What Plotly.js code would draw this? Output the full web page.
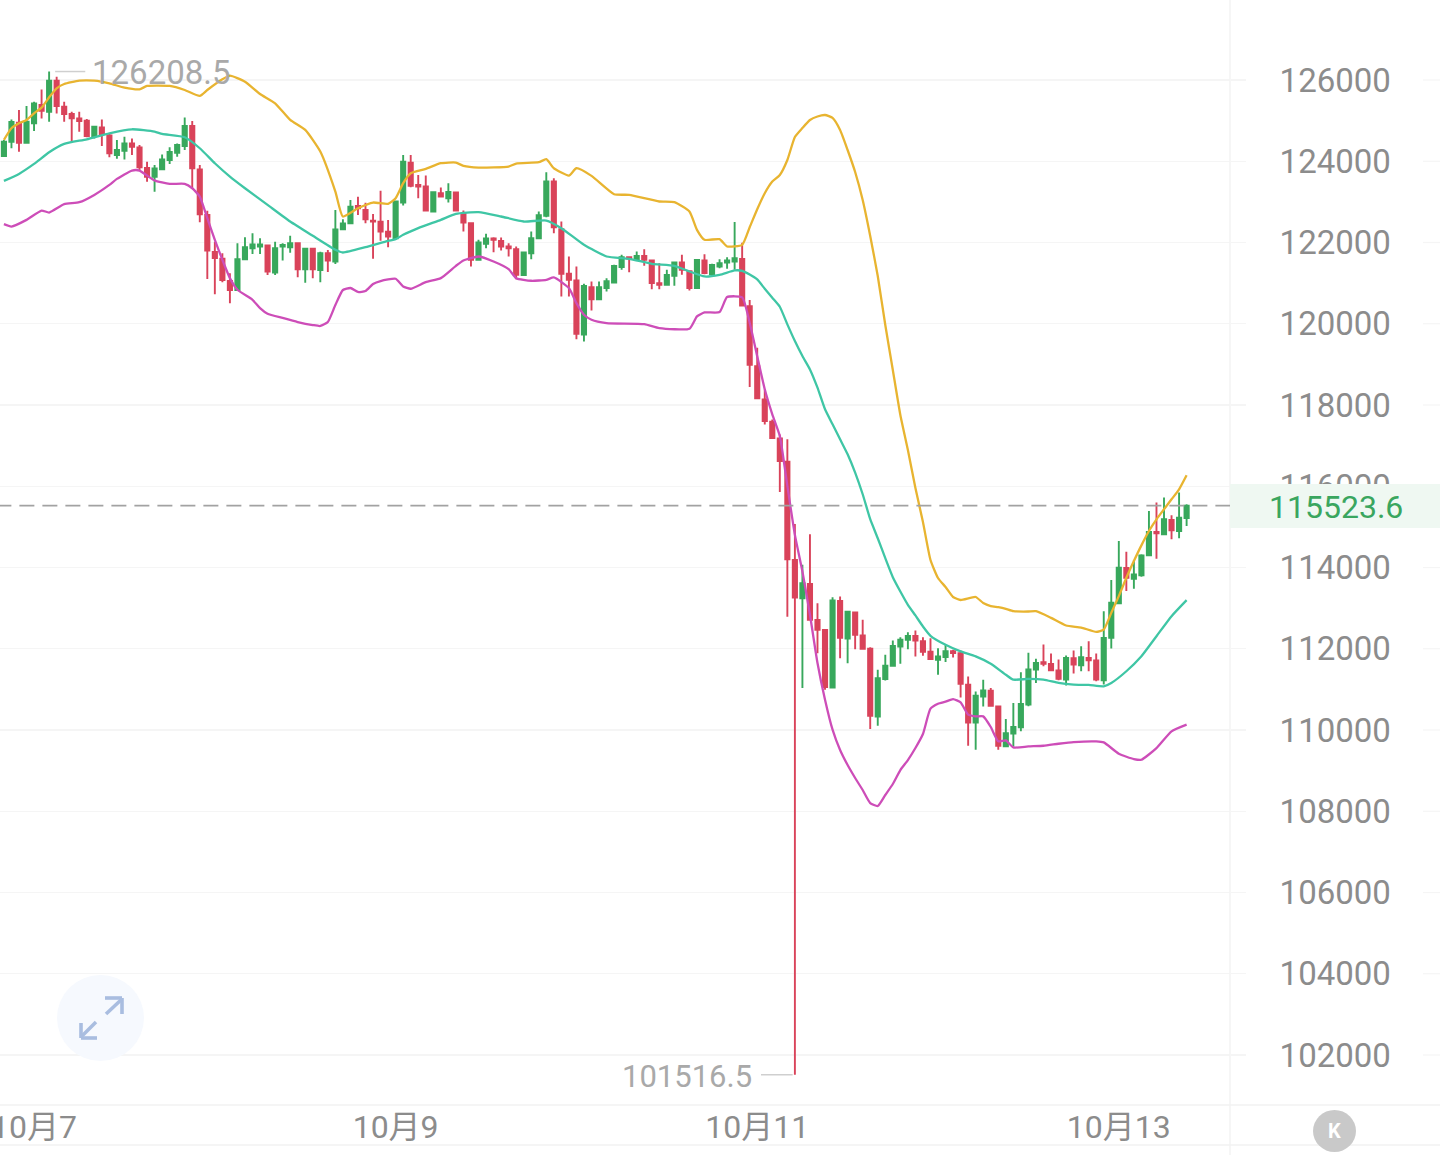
<!DOCTYPE html>
<html><head><meta charset="utf-8">
<script src="https://cdn.plot.ly/plotly-3.0.1.min.js"></script>
<style>html,body{margin:0;padding:0;background:#fff}#c{width:1440px;height:1155px}</style>
</head><body><div id="c"></div>
<script>
const opens=[124128,124481,124948,124456,124932,125383,125219,125982,125342,125162,125055,124998,124620,124834,124637,124153,124260,124440,124342,123833,123620,123800,124030,124210,124374,124866,123800,122677,121767,121603,121053,120832,121586,121857,121898,121930,121258,121898,121882,121980,121340,121849,121324,121734,121529,122324,122472,122898,122800,122538,122513,122267,
122106,122983,123967,123418,123377,122762,123213,123090,123229,122705,122475,121573,121967,122098,122040,121901,121835,121196,121737,122106,122655,123500,122327,121229,121065,119736,120901,120605,120876,121015,121393,121639,121573,121671,121557,120999,120958,121179,121507,121294,120876,121557,121220,121409,121507,121532,
121598,120434,118958,118138,117589,117179,116605,114188,113245,113598,112712,112466,111047,113179,112253,112893,112327,111999,110334,111252,111580,112056,112220,112318,112187,111925,111728,111794,111941,111892,111113,110186,110826,110966,110580,109596,
109910,110066,110625,111488,111669,111628,111463,111241,111767,111595,111776,111710,111225,112269,113116,113987,113724,113806,114299,114875,114817,115171,114899,115220];
const highs=[124522,125030,125260,125358,125465,125768,126208.5,126080,125465,125219,125219,125039,124866,125030,124670,124522,124604,124563,124399,123989,123907,124169,124342,124440,125080,124989,123907,122784,122021,121734,121242,121980,122128,122226,122103,121939,122021,121980,122169,121996,121857,121857,121775,121816,122800,122570,123046,123128,122980,122702,123276,122554,
123033,124156,124156,123664,123648,123254,123352,123459,123254,122787,122480,122065,122213,122131,122122,121983,121901,121778,122270,122762,123730,123582,122516,121655,121409,120983,121040,121040,121122,121450,121696,121655,121778,121835,121573,121491,121327,121532,121696,121311,121589,121712,121475,121589,121639,122505,
121992,120582,119409,118384,117646,117277,117154,115074,114065,114819,113122,112482,113270,113286,112917,112901,112712,112040,111482,111851,112204,112286,112409,112450,112286,112261,112015,112097,111974,111958,111318,110949,111236,111031,110596,110268,
110666,111422,111899,111751,112104,111883,111735,111833,111957,112063,112187,111883,112926,113691,114653,114390,114184,114324,115392,115598,115721,115286,115845,115557];
const lows=[124112,124317,124235,124440,124743,125055,124973,125178,124973,124456,124727,124588,124563,124374,124096,124063,124046,124153,123784,123497,123251,123784,123932,124112,124276,123333,122497,121103,120725,121021,120504,120816,121570,121718,121718,121201,121201,121554,121750,121144,121012,121119,121021,121275,121472,122308,122456,122677,122472,121603,122046,121882,
122065,122910,123361,123090,122762,122737,123115,122983,122778,122270,121409,121550,121860,121762,121803,121655,121097,121179,121589,122090,122623,122229,120671,120671,119621,119564,120327,120589,120794,120999,121327,121270,121557,121425,120851,120851,120942,120933,121204,120819,120860,121220,121179,121368,121352,121327,
120434,118441,118150,117523,117180,115858,112789,101516.5,111031,112696,111892,110990,111040,111769,111646,111990,111990,110022,110104,111220,111564,111630,111990,111810,111826,111730,111359,111671,111785,110801,109612,109514,110580,110580,109514,109590,
109597,109967,110584,111159,111570,111447,111225,111093,111389,111447,111447,111200,111118,112006,113100,113420,113477,113773,114280,114217,114800,114694,114718,115023];
const closes=[124481,124965,124456,124973,125424,125244,125982,125358,125162,125055,124989,124620,124850,124670,124194,124276,124440,124358,123850,123620,123825,124046,124227,124399,124866,123825,122693,121800,121619,121078,120832,121586,121882,121955,121955,121283,121857,121939,121980,121340,121849,121340,121734,121554,122324,122472,122882,122841,122570,122513,122267,122144,
123008,123992,123393,123377,122787,123238,123131,123246,122787,122491,121573,121999,122098,122065,121901,121860,121204,121753,122106,122672,123500,122377,121229,121081,119753,120933,120605,120901,121048,121425,121639,121606,121671,121573,120999,120958,121204,121507,121327,120876,121573,121245,121450,121491,121557,121614,
120450,118991,118163,117605,117187,116621,114202,113261,113614,112712,112466,111056,113188,112269,112910,112343,111999,110350,111277,111580,112072,112220,112318,112204,111925,111744,111810,111941,111892,111138,110186,110842,110974,110596,109612,109924,
110074,110641,111488,111652,111628,111472,111258,111776,111611,111792,111718,111241,112269,113132,113995,113748,113831,114299,114875,114842,115187,114916,115228,115523.6];
const candleIndex=opens.map((_,i)=>i);

const upperIdx=[0,1,2,3,4,5,6,7,8,10,12,14,16,18,19,22,24,26,27,29,30,32,34,36,38,40,42,44,45,47,49,51,52,53,54,56,58,60,61,63,67,68,71,72,73,75,76,78,81,83,87,89,91,92,93,95,96,98,99,100,101,102,103,104,105,106,107,108,109,110,111,112,113,114,115,116,117,118,119,120,121,122,123,124,125,126,127,129,130,131,132,133,134,136,137,139,141,143,145,146,147,148,149,150,151,152,153,154,155,156,157];
const upperVal=[124525,124812,124935,125017,125180,125320,125574,125795,125902,125984,125984,125918,125812,125771,125853,125853,125754,125607,125754,126017,126107,125959,125656,125426,125017,124771,124238,123254,122640,122844,122984,122951,123091,123459,123705,123812,123951,123968,123886,123845,123869,123943,123976,124050,123828,123648,123828,123640,123189,123173,123009,122992,122763,122312,122066,122082,121902,121943,122377,122820,123213,123500,123662,124031,124597,124818,125015,125102,125138,125065,124769,124277,123735,123046,122160,121175,119969,118862,117754,116892,115957,115120,114185,113742,113520,113274,113200,113274,113126,113052,113024,112983,112925,112917,112925,112761,112572,112523,112416,112473,112884,113295,113747,114159,114545,114898,115186,115433,115679,115926,116271];

const midIdx=[0,2,4,6,8,11,14,17,20,21,24,26,28,30,32,35,38,41,44,45,48,51,52,53,55,58,60,63,66,69,72,74,77,80,83,86,89,91,93,95,97,98,99,100,101,102,103,104,105,106,107,108,109,110,111,112,113,114,115,116,117,118,119,120,121,122,123,125,127,129,131,133,134,136,138,140,142,144,146,147,149,151,153,155,157];
const midVal=[123516,123689,123934,124221,124426,124541,124689,124787,124730,124672,124590,124320,123951,123623,123336,122926,122516,122164,121820,121754,121885,122041,122082,122189,122353,122558,122705,122746,122640,122517,122541,122353,121943,121656,121599,121476,121426,121287,121164,121205,121312,121304,121213,121090,120861,120640,120418,119984,119574,119205,118877,118427,117894,117525,117156,116787,116336,115803,115189,114721,114229,113762,113410,113082,112820,112549,112320,112098,111934,111811,111631,111361,111240,111257,111240,111158,111117,111109,111076,111158,111446,111816,112309,112802,113197];

const lowerIdx=[0,1,3,5,6,8,10,12,14,15,17,18,20,22,24,25,26,27,28,29,30,31,33,34,35,37,39,41,42,43,44,45,46,47,48,49,50,52,53,54,56,58,60,61,63,65,67,68,70,72,73,75,76,77,78,80,85,87,91,92,93,95,96,98,99,100,101,102,103,104,105,106,107,108,109,110,111,112,113,114,115,116,117,118,119,120,121,122,123,124,125,126,127,128,129,130,131,132,133,134,136,138,140,142,145,146,148,150,151,153,155,157];
const lowerVal=[122451,122393,122557,122787,122738,122943,122992,123172,123418,123566,123771,123771,123525,123443,123443,123336,123131,122598,122066,121574,121123,120836,120590,120385,120246,120142,120043,119969,119945,120043,120462,120831,120880,120782,120806,120978,121052,121107,120918,120861,121025,121123,121426,121558,121656,121533,121345,121123,121058,121082,121140,120877,120508,120222,120099,120017,119992,119894,119877,120181,120279,120287,120656,120650,120025,119200,118386,117771,117238,116008,114803,113902,112836,111648,110746,110008,109508,109138,108819,108523,108203,108129,108400,108671,109015,109261,109557,109902,110525,110648,110697,110762,110680,110377,110336,110336,110074,109721,109744,109572,109596,109613,109662,109703,109720,109695,109416,109284,109268,109555,109966,110131];

const yTicks=[126000,124000,122000,120000,118000,116000,114000,112000,110000,108000,106000,104000,102000];
const xTickIndex=[4,52,100,148];
const xTickText=['10月7','10月9','10月11','10月13'];
const lastPrice=115523.6, maxPrice=126208.5, minPrice=101516.5, maxIdx=6, minIdx=105;

const W=1440,H=1155,PW=1230,PH=1105;
const px=v=>v/PW, py=v=>1-v/PH;
const GRID='#f5f5f5';
const band=(x,y,color)=>({type:'scatter',mode:'lines',x,y,line:{color,width:2.3,shape:'spline',smoothing:0.5},hoverinfo:'skip',showlegend:false});

const shapes=[];
yTicks.forEach(v=>shapes.push({type:'line',xref:'paper',yref:'y',x0:px(1423),x1:px(1440),y0:v,y1:v,line:{color:GRID,width:1.2},layer:'below'}));
shapes.push({type:'line',xref:'paper',yref:'paper',x0:1,x1:1,y0:py(0),y1:py(1155),line:{color:'#f3f3f3',width:1.5}});
shapes.push({type:'line',xref:'paper',yref:'paper',x0:0,x1:px(1440),y0:py(1105),y1:py(1105),line:{color:'#f2f2f2',width:1.5}});
shapes.push({type:'line',xref:'paper',yref:'paper',x0:0,x1:px(1440),y0:py(1145),y1:py(1145),line:{color:'#f2f2f2',width:1.5}});
shapes.push({type:'line',xref:'x',yref:'y',x0:-1,x1:163,y0:lastPrice,y1:lastPrice,line:{color:'#a2a2a2',width:1.8,dash:'15px,8px'}});
shapes.push({type:'rect',xref:'paper',yref:'paper',x0:1,x1:px(1440),y0:py(484),y1:py(528),fillcolor:'#eff8f2',line:{width:0}});
shapes.push({type:'line',xref:'x',yref:'y',x0:maxIdx+0.8,x1:maxIdx+4.8,y0:maxPrice,y1:maxPrice,line:{color:'#cfcfcf',width:1.5}});
shapes.push({type:'line',xref:'x',yref:'y',x0:minIdx-4.5,x1:minIdx-0.3,y0:minPrice,y1:minPrice,line:{color:'#cfcfcf',width:1.5}});
// expand button
shapes.push({type:'circle',xref:'paper',yref:'paper',x0:px(57),x1:px(144),y0:py(975),y1:py(1061),fillcolor:'#f6f9fe',line:{width:0}});
const seg=(a,b,c,d)=>shapes.push({type:'line',xref:'paper',yref:'paper',x0:px(a),x1:px(c),y0:py(b),y1:py(d),line:{color:'#a9bde0',width:3.6}});
seg(106,1014,122,999); seg(105,998,122,998); seg(122,998,122,1014);
seg(96,1022,81,1037); seg(81,1023,81,1038); seg(81,1038,97,1038);
// K badge
shapes.push({type:'circle',xref:'paper',yref:'paper',x0:px(1313),x1:px(1356),y0:py(1110),y1:py(1152),fillcolor:'#c9c9c9',line:{width:0}});

const axisFont={family:'Roboto, "Noto Sans CJK SC", sans-serif',size:32,color:'#8c8c8c'};
const priceFont={family:'Roboto, sans-serif',size:33,color:'#8c8c8c'};
const annotations=[
 {xref:'x',yref:'y',x:maxIdx,y:maxPrice,xshift:41,yshift:-1,xanchor:'left',yanchor:'middle',text:String(maxPrice),showarrow:false,font:{family:'Roboto',size:33,color:'#a9a9a9'}},
 {xref:'x',yref:'y',x:minIdx,y:minPrice,xshift:-41,yshift:-2,xanchor:'right',yanchor:'middle',text:String(minPrice),showarrow:false,font:{family:'Roboto',size:31,color:'#a9a9a9'}},
 {xref:'paper',yref:'y',x:px(1335.5),y:lastPrice,yshift:-1,xanchor:'center',yanchor:'middle',text:lastPrice.toFixed(1),showarrow:false,font:{family:'Roboto',size:32,color:'#3aa65f'}},
 {xref:'paper',yref:'paper',x:px(1334),y:py(1131),xanchor:'center',yanchor:'middle',text:'<b>K</b>',showarrow:false,font:{family:'Roboto',size:20,color:'#ffffff'}}
];

Plotly.newPlot('c',[
 {type:'candlestick',x:candleIndex,open:opens,high:highs,low:lows,close:closes,
  increasing:{line:{color:'#38a85c',width:1.9},fillcolor:'#38a85c'},
  decreasing:{line:{color:'#d9435a',width:1.9},fillcolor:'#d9435a'},
  whiskerwidth:0,hoverinfo:'skip',showlegend:false},
 band(upperIdx,upperVal,'#e8b430'),
 band(midIdx,midVal,'#3fc6a5'),
 band(lowerIdx,lowerVal,'#cd4db8')
],{
 width:W,height:H,margin:{l:0,r:W-PW,t:0,b:H-PH,pad:0},
 paper_bgcolor:'#fff',plot_bgcolor:'#fff',showlegend:false,boxgap:0.2,
 xaxis:{type:'linear',range:[-0.52,162.76],rangeslider:{visible:false},showgrid:false,zeroline:false,showline:false,
  tickmode:'array',tickvals:xTickIndex,ticktext:xTickText,ticks:'',tickfont:axisFont,ticklabeloverflow:'allow',automargin:false},
 yaxis:{side:'right',range:[100769.6,127969.2],showgrid:true,gridcolor:GRID,gridwidth:1.2,zeroline:false,showline:false,
  tickmode:'array',tickvals:yTicks,ticktext:yTicks.map(String),ticks:'outside',ticklen:15,tickcolor:GRID,tickwidth:1.2,ticklabelstandoff:27,tickfont:priceFont,automargin:false},
 shapes,annotations
},{displayModeBar:false,staticPlot:true});
</script></body></html>
